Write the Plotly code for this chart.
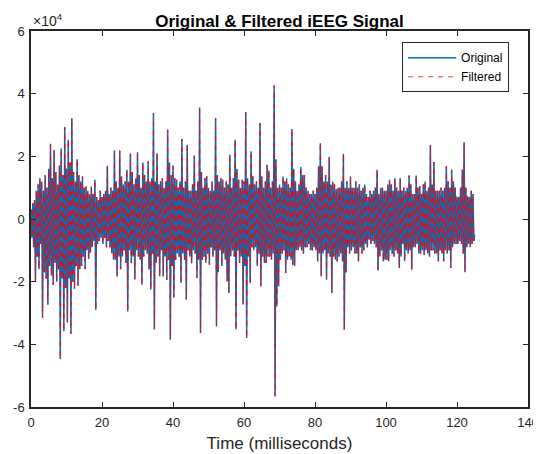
import numpy as np
import plotly.graph_objects as go

# Signal samples every 0.25 ms, in units of 10^4 (as on the y axis)
original = [
    0.3, -0.6, 0.5, -0.9,
    0.6, -2.0, 0.9, -1.2,
    1.1, -1.6, 1.3, -0.8,
    1.2, -3.15, 0.9, -1.7,
    1.4, -1.9, 1.0, -2.73,
    1.6, -1.5, 2.4, -1.8,
    1.3, -2.1, 2.2, -1.4,
    1.5, -2.0, 1.1, -1.6,
    1.7, -4.47, 2.25, -1.9,
    1.4, -3.58, 2.93, -2.2,
    1.6, -3.3, 2.53, -1.9,
    1.8, -3.66, 3.22, -2.0,
    1.5, -2.23, 1.2, -1.5,
    1.91, -2.13, 1.4, -1.6,
    1.2, -1.5, 1.36, -1.2,
    1.0, -1.6, 1.04, -1.0,
    0.9, -1.28, 0.78, -1.08,
    1.04, -0.9, 0.8, -0.7,
    1.25, -2.9, 0.7, -0.8,
    0.6, -0.7, 0.9, -0.6,
    0.7, -0.8, 0.8, -0.6,
    0.9, -0.9, 1.7, -0.7,
    0.8, -0.9, 1.0, -1.1,
    0.9, -1.3, 2.19, -1.3,
    1.2, -1.83, 1.0, -1.2,
    2.18, -1.6, 1.36, -1.2,
    1.1, -1.0, 1.2, -1.4,
    1.57, -2.95, 1.2, -1.0,
    2.08, -1.4, 1.5, -1.2,
    1.1, -1.93, 1.3, -1.0,
    2.13, -1.2, 1.4, -1.3,
    1.0, -2.1, 1.8, -1.2,
    1.4, -1.0, 1.2, -1.1,
    1.84, -1.6, 1.2, -2.25,
    1.3, -1.1, 3.38, -3.53,
    1.2, -1.4, 2.1, -1.2,
    1.1, -1.83, 1.2, -1.0,
    1.3, -1.83, 1.0, -1.2,
    1.2, -1.94, 2.85, -1.3,
    1.8, -3.85, 1.4, -1.5,
    1.7, -2.5, 1.3, -1.3,
    1.25, -1.1, 1.0, -1.2,
    1.2, -2.04, 2.55, -1.1,
    1.0, -1.3, 1.2, -2.57,
    2.37, -1.0, 0.9, -1.2,
    0.9, -1.41, 1.1, -1.0,
    2.02, -1.1, 0.9, -1.88,
    1.2, -1.3, 3.56, -3.64,
    1.5, -1.3, 1.0, -1.2,
    1.3, -1.4, 1.36, -1.1,
    1.0, -1.46, 0.9, -0.9,
    1.2, -1.2, 0.9, -1.0,
    3.22, -3.42, 1.4, -1.7,
    1.2, -1.0, 1.3, -1.5,
    1.25, -1.1, 1.0, -1.3,
    1.2, -1.99, 1.1, -2.36,
    2.05, -1.2, 1.0, -1.0,
    1.3, -1.2, 2.53, -3.53,
    1.6, -1.0, 1.25, -1.4,
    1.0, -1.2, 1.25, -2.73,
    1.2, -1.5, 3.41, -3.8,
    1.3, -1.2, 1.1, -2.04,
    2.16, -0.9, 1.36, -1.0,
    1.1, -0.9, 1.2, -1.5,
    1.0, -1.1, 3.06, -2.15,
    1.36, -1.2, 1.0, -1.4,
    1.2, -1.4, 1.73, -1.2,
    1.55, -1.2, 1.0, -1.3,
    1.2, -1.1, 4.26, -5.66,
    1.9, -2.79, 1.0, -2.15,
    1.1, -1.3, 1.0, -1.1,
    1.36, -1.0, 1.2, -1.72,
    1.3, -1.3, 1.1, -1.2,
    1.0, -1.3, 2.87, -1.46,
    1.6, -1.5, 1.2, -1.0,
    0.9, -1.0, 1.1, -0.9,
    1.66, -1.0, 1.4, -1.1,
    1.4, -0.9, 1.0, -0.9,
    0.9, -0.8, 0.8, -1.0,
    0.8, -1.0, 0.9, -0.9,
    0.8, -1.0, 1.0, -1.35,
    1.68, -1.1, 2.42, -1.83,
    1.68, -1.1, 1.2, -1.0,
    1.4, -1.94, 1.2, -1.1,
    1.98, -1.2, 1.1, -2.36,
    1.2, -1.2, 1.1, -1.3,
    0.95, -1.35, 1.0, -1.2,
    1.0, -1.1, 1.2, -1.35,
    2.08, -3.53, 1.0, -1.7,
    1.2, -0.9, 1.0, -1.1,
    1.36, -1.0, 1.0, -0.9,
    1.0, -1.1, 1.2, -1.1,
    1.0, -1.35, 1.1, -0.9,
    0.9, -1.1, 1.0, -1.0,
    1.1, -0.8, 0.8, -0.9,
    0.7, -0.65, 0.9, -0.8,
    0.8, -0.7, 0.9, -0.8,
    1.0, -0.9, 1.57, -1.64,
    0.8, -1.2, 1.0, -1.0,
    1.0, -1.35, 0.9, -1.3,
    0.9, -1.3, 1.1, -1.35,
    1.25, -1.0, 1.1, -1.1,
    0.9, -1.2, 1.3, -1.0,
    1.0, -1.1, 0.9, -1.56,
    1.3, -1.2, 0.9, -0.8,
    1.0, -1.35, 0.9, -1.0,
    1.0, -1.1, 1.39, -1.0,
    1.1, -1.62, 0.8, -0.9,
    0.8, -0.9, 1.39, -0.8,
    1.0, -1.1, 1.05, -1.1,
    0.8, -1.0, 1.1, -1.15,
    1.2, -1.0, 0.9, -1.1,
    1.0, -1.2, 2.36, -1.0,
    1.1, -1.0, 1.82, -1.1,
    0.9, -1.1, 0.9, -1.35,
    0.9, -1.0, 1.0, -1.1,
    0.9, -1.35, 1.0, -1.0,
    1.68, -1.1, 1.2, -1.0,
    1.0, -1.56, 1.57, -0.9,
    1.2, -0.8, 1.0, -0.8,
    0.72, -0.8, 0.7, -0.7,
    1.0, -0.8, 1.57, -1.1,
    2.45, -1.70, 1.0, -0.9,
    0.72, -0.8, 0.7, -0.9,
    0.9, -0.8, 0.8, -0.7,
    -0.5,
]
# The filtered trace lies on top of the original in the picture
filtered = list(original)

time_ms = np.arange(len(original)) * 0.25

y_tick_vals = [-6, -4, -2, 0, 2, 4, 6]
y_tick_text = ["-6", "-4", "-2", "0", "2", "4", "6"]
x_tick_vals = [0, 20, 40, 60, 80, 100, 120, 140]

FONT = "Liberation Sans, Arial, sans-serif"
AX = "#262626"

fig = go.Figure()
fig.add_trace(go.Scatter(
    x=time_ms, y=original, mode="lines", name="Original",
    line=dict(color="#0072BD", width=1.5),
))
fig.add_trace(go.Scatter(
    x=time_ms, y=filtered, mode="lines", name="Filtered",
    line=dict(color="rgba(255,0,0,0.8)", width=1.0, dash="5px,5px"),
))

axis_common = dict(
    showline=True, linecolor=AX, linewidth=1.5, mirror="ticks",
    ticks="inside", ticklen=5, tickcolor=AX, tickwidth=1,
    showgrid=False, zeroline=False, automargin=False,
    ticklabeloverflow="allow",
    tickfont=dict(family=FONT, size=13, color=AX),
)

# The page body adds an 8px offset, so the figure is sized to fill the rest of the window
fig.update_layout(
    width=533, height=446,
    margin=dict(l=23, r=13, t=23, b=47),
    paper_bgcolor="white", plot_bgcolor="white",
    title=dict(
        text="<b>Original & Filtered iEEG Signal</b>",
        x=0.5, xanchor="center", xref="paper",
        y=1.0, yref="paper", yanchor="bottom", pad=dict(b=4),
        automargin=False,
        font=dict(family=FONT, size=17, color="black"),
    ),
    xaxis=dict(
        range=[0, 140], tickvals=x_tick_vals,
        ticklabelstandoff=3,
        title=dict(text="Time (milliseconds)", standoff=8,
                   font=dict(family=FONT, size=17, color=AX)),
        **axis_common,
    ),
    yaxis=dict(
        range=[-6, 6], tickvals=y_tick_vals, ticktext=y_tick_text,
        ticklabelstandoff=2,
        **axis_common,
    ),
    legend=dict(
        x=0.962, y=0.97, xanchor="right", yanchor="top",
        bgcolor="white", bordercolor=AX, borderwidth=1,
        font=dict(family=FONT, size=12, color="black"),
        tracegroupgap=0, itemwidth=48,
    ),
    showlegend=True,
)

fig.add_annotation(
    text="×10<sup>4</sup>", xref="paper", yref="paper", x=0.0, y=1.0,
    xanchor="left", yanchor="bottom", showarrow=False, xshift=0, yshift=0,
    font=dict(family=FONT, size=14, color=AX),
)

fig.write_html("out.html")
